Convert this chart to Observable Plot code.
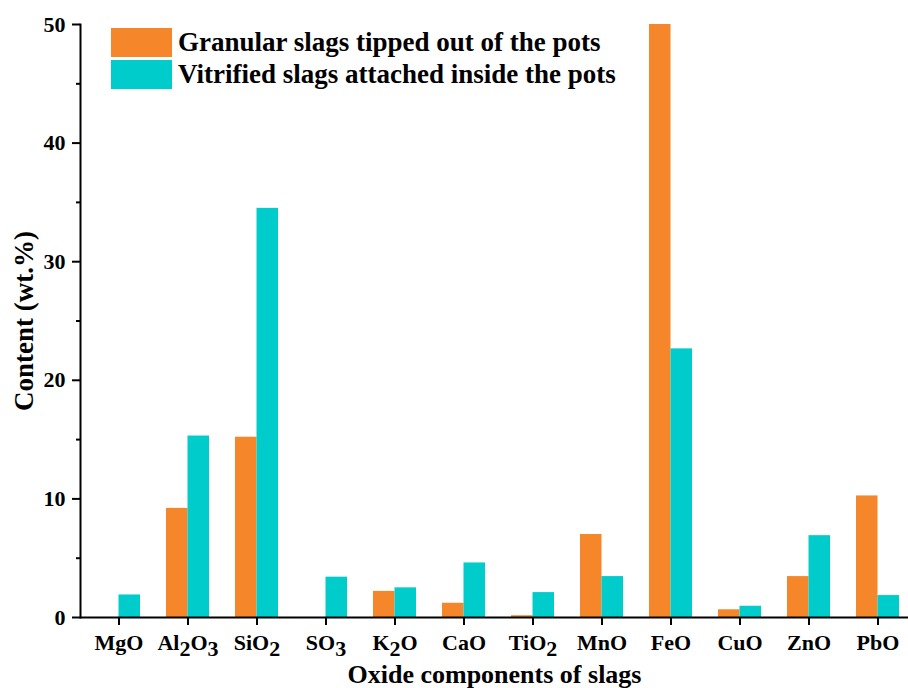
<!DOCTYPE html>
<html>
<head>
<meta charset="utf-8">
<script src="https://cdn.jsdelivr.net/npm/d3@7"></script>
<script src="https://cdn.jsdelivr.net/npm/@observablehq/plot@0.6"></script>
<style>
  body { margin: 0; background: #fff; }
  #wrap { position: relative; width: 908px; height: 688px; overflow: hidden; }
  #legend { position: absolute; left: 111px; top: 27px; font-family: "Liberation Serif", serif; font-weight: bold; font-size: 27px; color: #000; }
  .item { display: flex; align-items: center; height: 31.5px; }
  .sw { width: 61px; height: 29px; margin-right: 6px; flex: none; }
  .item span { white-space: nowrap; }
</style>
</head>
<body>
<div id="wrap"><div id="legend"></div></div>
<script>
const oxides = ["MgO","Al2O3","SiO2","SO3","K2O","CaO","TiO2","MnO","FeO","CuO","ZnO","PbO"];
const granular = [0, 9.2, 15.2, 0, 2.2, 1.2, 0.15, 7.0, 50, 0.65, 3.45, 10.25];
const vitrified = [1.9, 15.3, 34.5, 3.4, 2.5, 4.6, 2.1, 3.45, 22.65, 0.95, 6.9, 1.85];
const seriesNames = ["Granular slags tipped out of the pots", "Vitrified slags attached inside the pots"];
const seriesColors = ["#F5862A", "#00CCCC"];
const yMajor = [0, 10, 20, 30, 40, 50];
const yMinor = [5, 15, 25, 35, 45];
const yLabel = "Content (wt.%)";
const xLabel = "Oxide components of slags";

const gData = oxides.map((o, i) => ({oxide: o, value: granular[i]}));
const vData = oxides.map((o, i) => ({oxide: o, value: vitrified[i]}));

const chart = Plot.plot({
  width: 908,
  height: 688,
  marginLeft: 80,
  marginRight: 0,
  marginTop: 24,
  marginBottom: 71,
  style: {fontFamily: "Liberation Serif, serif", fontWeight: "bold", fontSize: "22px", color: "#000", background: "#fff"},
  x: {domain: oxides, range: [80, 916.6], paddingInner: 0.381, paddingOuter: 0.209},
  y: {domain: [0, 50]},
  marks: [
    Plot.barY(gData, {x: "oxide", y: "value", fill: seriesColors[0], insetRight: 21.5}),
    Plot.barY(vData, {x: "oxide", y: "value", fill: seriesColors[1], insetLeft: 21.5}),
    Plot.ruleY([0], {stroke: "#000", strokeWidth: 2}),
    Plot.frame({anchor: "left", stroke: "#000", strokeWidth: 2}),
    Plot.axisY({ticks: yMajor, tickSize: 8, tickPadding: 7, strokeWidth: 2, label: null, fontSize: 22}),
    Plot.axisY({ticks: yMinor, tickSize: 4, strokeWidth: 2, tickFormat: () => "", label: null}),
    Plot.axisX({tickSize: 8, tickPadding: 9, strokeWidth: 2, label: null, fontSize: 22}),
    Plot.text([yLabel], {text: d => d, frameAnchor: "left", textAnchor: "middle", lineAnchor: "middle", rotate: -90, dx: -56, dy: 0, fontSize: 27, fontWeight: "bold"}),
    Plot.text([xLabel], {text: d => d, frameAnchor: "bottom", textAnchor: "middle", lineAnchor: "middle", dy: 57, fontSize: 26, fontWeight: "bold"})
  ]
});
document.getElementById("wrap").prepend(chart);

// Render digits in chemical formulas as subscripts
d3.select(chart).selectAll("text").each(function() {
  const t = this.textContent;
  if (!oxides.includes(t) || !/\d/.test(t)) return;
  const parts = t.match(/\d+|\D+/g);
  const sel = d3.select(this);
  sel.text("");
  parts.forEach((p, i) => {
    const isSub = /\d/.test(p);
    const prevSub = i > 0 && /\d/.test(parts[i - 1]);
    const ts = sel.append("tspan").text(p);
    if (isSub) ts.attr("dy", "0.28em");
    else if (prevSub) ts.attr("dy", "-0.28em");
  });
});

const legend = d3.select("#legend");
seriesNames.forEach((n, i) => {
  const it = legend.append("div").attr("class", "item");
  it.append("div").attr("class", "sw").style("background", seriesColors[i]);
  it.append("span").text(n);
});
</script>
</body>
</html>
